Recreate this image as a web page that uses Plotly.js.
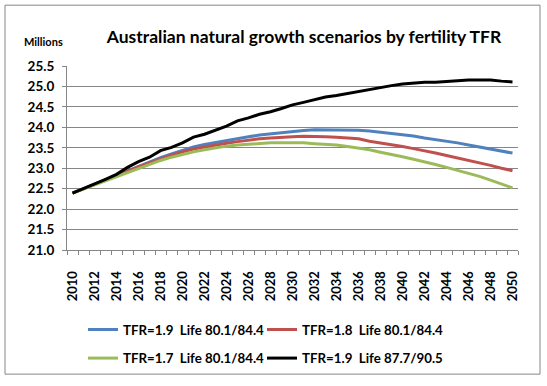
<!DOCTYPE html>
<html>
<head>
<meta charset="utf-8">
<script src="https://cdn.plot.ly/plotly-3.0.1.min.js"></script>
<style>html,body{margin:0;padding:0;background:#fff;}#chart{width:547px;height:386px;}</style>
</head>
<body>
<div id="chart"></div>
<script>
const years = [];
for (let y = 2010; y <= 2050; y++) years.push(y);

const tfr19 = [22.39,22.50,22.61,22.72,22.83,22.95,23.05,23.15,23.26,23.35,23.44,23.52,23.58,23.63,23.68,23.73,23.77,23.81,23.84,23.87,23.90,23.92,23.94,23.94,23.94,23.94,23.93,23.91,23.88,23.86,23.83,23.79,23.74,23.70,23.67,23.62,23.57,23.52,23.48,23.42,23.37];
const tfr18 = [22.39,22.50,22.60,22.71,22.82,22.93,23.03,23.13,23.23,23.32,23.40,23.47,23.52,23.57,23.61,23.65,23.69,23.72,23.74,23.76,23.77,23.78,23.78,23.77,23.76,23.74,23.72,23.66,23.62,23.58,23.53,23.48,23.43,23.37,23.31,23.25,23.20,23.14,23.07,23.00,22.94];
const tfr17 = [22.39,22.49,22.59,22.69,22.79,22.90,23.00,23.10,23.19,23.27,23.34,23.40,23.45,23.50,23.54,23.57,23.59,23.61,23.62,23.62,23.62,23.62,23.60,23.59,23.57,23.53,23.49,23.45,23.39,23.34,23.28,23.22,23.16,23.09,23.02,22.95,22.87,22.80,22.71,22.62,22.52];
const tfr19life = [22.39,22.50,22.62,22.73,22.85,23.02,23.16,23.27,23.43,23.51,23.62,23.76,23.83,23.93,24.03,24.16,24.23,24.32,24.38,24.46,24.55,24.61,24.68,24.74,24.78,24.83,24.88,24.93,24.97,25.02,25.06,25.08,25.10,25.10,25.12,25.15,25.16,25.16,25.16,25.13,25.11];

const seriesNames = [
  'TFR=1.9\u00a0 Life 80.1/84.4',
  'TFR=1.8\u00a0 Life 80.1/84.4',
  'TFR=1.7\u00a0 Life 80.1/84.4',
  'TFR=1.9\u00a0 Life 87.7/90.5'
];
const seriesData = [tfr19, tfr18, tfr17, tfr19life];
const seriesColors = ['#4F81BD', '#C0504D', '#9BBB59', '#000000'];
const seriesLegend = ['legend', 'legend2', 'legend3', 'legend4'];

const FONT = 'Lato, "Liberation Sans", Arial, sans-serif';

// plot area in pixels
const L = 67, R = 518, T = 66, B = 253.5;
const W = R - L, H = B - T;
const px = x => (x - L) / W;
const py = y => (B - y) / H;

const traces = seriesData.map((d, i) => ({
  x: years, y: d, type: 'scatter', mode: 'lines',
  name: seriesNames[i],
  line: {color: seriesColors[i], width: 3},
  legend: seriesLegend[i],
  hoverinfo: 'skip'
}));

const legendCommon = {
  orientation: 'h', xanchor: 'left', yanchor: 'middle',
  xref: 'paper', yref: 'paper',
  font: {family: FONT, size: 13.3, color: '#000', weight: 'bold'},
  bgcolor: 'rgba(0,0,0,0)', borderwidth: 0
};
const leg = (x, y) => Object.assign({}, legendCommon, {x: px(x), y: py(y)});

const layout = {
  width: 547, height: 386,
  margin: {l: L, r: 547 - R, t: T, b: 386 - B, pad: 0},
  paper_bgcolor: '#fff', plot_bgcolor: '#fff',
  showlegend: true,
  title: {
    text: 'Australian natural growth scenarios by fertility TFR',
    font: {family: FONT, size: 17.5, color: '#000', weight: 'bold'},
    xref: 'paper', x: px(304), xanchor: 'center',
    yref: 'container', y: 1 - 37 / 386, yanchor: 'middle'
  },
  xaxis: {
    range: [2009.5, 2050.5],
    tick0: 2010, dtick: 2,
    ticks: 'outside', ticklen: 0,
    tickangle: -90,
    ticklabelstandoff: 15,
    tickfont: {family: FONT, size: 13, color: '#000', weight: 'bold'},
    minor: {tick0: 2009.5, dtick: 1, ticks: 'outside', ticklen: 4, tickcolor: '#868686', tickwidth: 1, showgrid: false},
    showline: true, linecolor: '#868686', linewidth: 1,
    showgrid: false, zeroline: false, fixedrange: true
  },
  yaxis: {
    range: [21, 25.5],
    tick0: 21, dtick: 0.5, tickformat: '.1f',
    ticks: 'outside', ticklen: 4, tickcolor: '#868686',
    ticklabelstandoff: 5,
    tickfont: {family: FONT, size: 13.5, color: '#000', weight: 'bold'},
    showline: true, linecolor: '#868686', linewidth: 1,
    showgrid: true, gridcolor: '#868686', gridwidth: 1,
    zeroline: false, fixedrange: true
  },
  legend: leg(83, 335),
  legend2: leg(262, 335),
  legend3: leg(83, 364),
  legend4: leg(262, 364),
  annotations: [{
    text: 'Millions', xref: 'paper', yref: 'paper',
    x: px(22), y: py(41), xanchor: 'left', yanchor: 'middle',
    showarrow: false,
    font: {family: FONT, size: 11, color: '#000', weight: 'bold'}
  }],
  shapes: [{
    type: 'rect', xref: 'paper', yref: 'paper',
    x0: px(5), x1: px(540), y0: py(4), y1: py(380),
    line: {color: '#868686', width: 1}, fillcolor: 'rgba(0,0,0,0)', layer: 'below'
  }]
};

Plotly.newPlot('chart', traces, layout, {staticPlot: true, displayModeBar: false});
</script>
</body>
</html>
